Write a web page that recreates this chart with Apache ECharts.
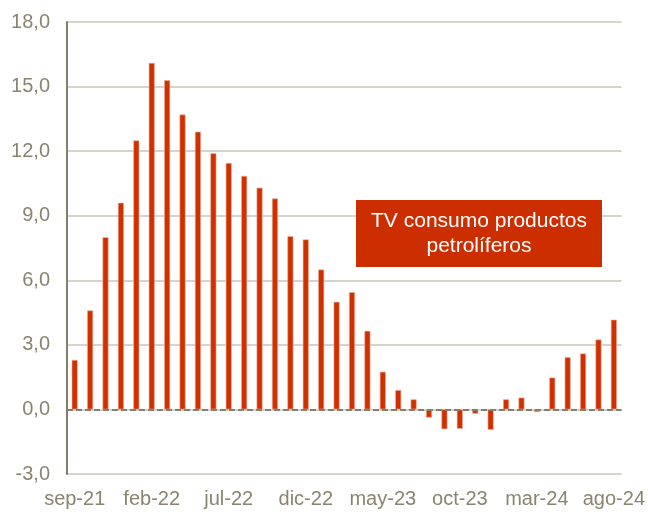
<!DOCTYPE html>
<html>
<head>
<meta charset="utf-8">
<script src="https://cdn.jsdelivr.net/npm/echarts@6/dist/echarts.min.js"></script>
<style>
  html, body { margin: 0; padding: 0; background: #fff; }
  #chart { width: 648px; height: 512px; }
</style>
</head>
<body>
<div id="chart"></div>
<script>
// meses sep-21 .. ago-24
var months = ['sep-21', 'oct-21', 'nov-21', 'dic-21', 'ene-22', 'feb-22', 'mar-22', 'abr-22', 'may-22',
  'jun-22', 'jul-22', 'ago-22', 'sep-22', 'oct-22', 'nov-22', 'dic-22', 'ene-23', 'feb-23', 'mar-23',
  'abr-23', 'may-23', 'jun-23', 'jul-23', 'ago-23', 'sep-23', 'oct-23', 'nov-23', 'dic-23', 'ene-24',
  'feb-24', 'mar-24', 'abr-24', 'may-24', 'jun-24', 'jul-24', 'ago-24']
// TV consumo productos petrolíferos (%)
var tvConsumo = [2.3, 4.6, 8.0, 9.6, 12.5, 16.1, 15.3, 13.7, 12.9,
  11.9, 11.45, 10.85, 10.3, 9.8, 8.05, 7.9, 6.5, 5.0, 5.45,
  3.65, 1.75, 0.9, 0.47, -0.38, -0.92, -0.9, -0.2, -0.95, 0.47,
  0.55, -0.12, 1.48, 2.43, 2.6, 3.25, 4.17]
var yTicks = { min: -3, max: 18, step: 3 }
var boxText = 'TV consumo productos\npetrolíferos'

var chart = echarts.init(document.getElementById('chart'))
var option = {
  animation: false,
  textStyle: { fontFamily: 'Liberation Sans, Arial, sans-serif' },
  grid: { left: 67, right: 25, top: 22, bottom: 38 },
  xAxis: {
    type: 'category',
    data: months,
    boundaryGap: true,
    axisLine: { show: false },
    axisTick: { show: false },
    axisLabel: {
      interval: 4,
      color: '#8a846f',
      fontSize: 20,
      margin: 15
    }
  },
  yAxis: {
    type: 'value',
    min: yTicks.min,
    max: yTicks.max,
    interval: yTicks.step,
    axisLine: { show: true, onZero: false, lineStyle: { color: '#847e6a', width: 2 } },
    axisTick: { show: false },
    axisLabel: {
      color: '#8a846f',
      fontSize: 20,
      margin: 17,
      formatter: function (v) { return v.toFixed(1).replace('.', ',') }
    },
    splitLine: { lineStyle: { color: '#c9c5b9', width: 1.5 } }
  },
  series: [{
    name: 'TV consumo productos petrolíferos',
    type: 'bar',
    data: tvConsumo,
    barWidth: 6,
    itemStyle: { color: '#d03000', borderColor: '#f0b4a0', borderWidth: 0.6 },
    markLine: {
      silent: true,
      symbol: 'none',
      z: 5,
      label: { show: false },
      lineStyle: { color: '#857f6b', type: [6, 3], width: 2 },
      data: [{ yAxis: 0 }]
    }
  }],
  graphic: [{
    type: 'rect',
    z: 100,
    left: 356,
    top: 200,
    shape: { width: 246, height: 67 },
    style: { fill: '#cc2e00' }
  }, {
    type: 'text',
    z: 101,
    x: 479,
    y: 209,
    style: {
      text: boxText,
      fill: '#ffffff',
      font: '21px "Liberation Sans", Arial, sans-serif',
      align: 'center',
      verticalAlign: 'top',
      lineHeight: 25
    }
  }]
}
chart.setOption(option)
</script>
</body>
</html>
